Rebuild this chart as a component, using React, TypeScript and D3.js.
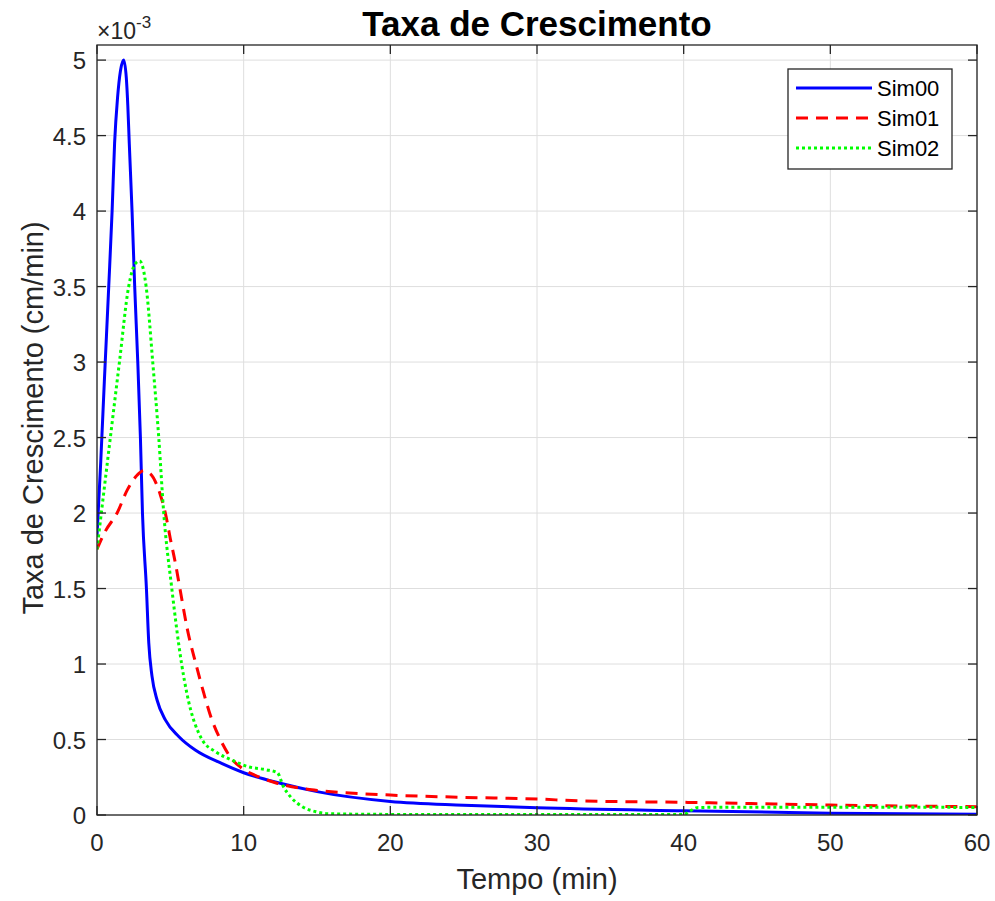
import React, { useEffect, useRef } from "react";
import * as d3 from "d3";

// tempo (min) and taxa (x1e-3 cm/min)
const sim00T = [0, 0.25, 0.5, 0.8, 1.03, 1.2, 1.4, 1.6, 1.82, 2.0, 2.1, 2.2, 2.39, 2.57, 2.78, 2.96, 3.1, 3.37, 3.53, 3.75, 4.1, 4.66, 5.57, 6.7, 8.53, 10, 12.5, 15, 20, 25, 30, 40, 50, 60];
const sim00V = [1.85, 2.33, 2.87, 3.5, 4.0, 4.45, 4.75, 4.93, 5.0, 4.88, 4.7, 4.45, 4.0, 3.5, 3.0, 2.5, 2.0, 1.5, 1.14, 0.92, 0.76, 0.63, 0.52, 0.43, 0.34, 0.28, 0.21, 0.155, 0.09, 0.065, 0.048, 0.028, 0.012, 0.005];

const sim01T = [0, 0.57, 1.37, 2.05, 2.73, 3.18, 3.64, 4.32, 4.66, 5.0, 5.34, 5.69, 6.14, 6.8, 7.3, 7.8, 8.41, 9.2, 9.89, 11.0, 12.16, 14, 15, 20, 25, 30, 33, 40, 50, 60];
const sim01V = [1.76, 1.88, 2.0, 2.15, 2.25, 2.28, 2.26, 2.12, 2.0, 1.83, 1.67, 1.48, 1.24, 0.98, 0.8, 0.64, 0.5, 0.37, 0.31, 0.254, 0.214, 0.175, 0.163, 0.132, 0.117, 0.106, 0.093, 0.084, 0.066, 0.055];

const sim02T = [0, 0.91, 1.53, 2.16, 2.6, 2.91, 3.35, 3.8, 4.21, 4.55, 5.1, 5.77, 6.14, 7.16, 8.07, 9.2, 10.3, 11.5, 12.3, 12.7, 13.2, 14, 15, 16, 20, 30, 40, 40.5, 41, 45, 50, 60];
const sim02V = [1.76, 2.5, 3.0, 3.5, 3.65, 3.67, 3.5, 3.0, 2.5, 2.0, 1.5, 1.0, 0.8, 0.5, 0.42, 0.364, 0.32, 0.3, 0.28, 0.19, 0.12, 0.055, 0.02, 0.008, 0.004, 0.003, 0.003, 0.03, 0.05, 0.052, 0.052, 0.05];

const seriesNames = ["Sim00", "Sim01", "Sim02"];
const xTicks = [0, 10, 20, 30, 40, 50, 60];
const yTicks = [0, 0.5, 1, 1.5, 2, 2.5, 3, 3.5, 4, 4.5, 5];

const W = 995;
const H = 901;
const FONT = "'Liberation Sans', Arial, Helvetica, sans-serif";
const AX = "#262626";

export default function App() {
  const svgRef = useRef<SVGSVGElement | null>(null);

  useEffect(() => {
    const svg = d3.select(svgRef.current);
    svg.selectAll("*").remove();

    const margin = { top: 45, right: 18, bottom: 86, left: 97 };
    const width = W - margin.left - margin.right;
    const height = H - margin.top - margin.bottom;

    const x = d3.scaleLinear().domain([0, 60]).range([0, width]);
    const y = d3.scaleLinear().domain([0, 5.1]).range([height, 0]);

    svg.append("rect").attr("width", W).attr("height", H).attr("fill", "#fff");

    const g = svg.append("g").attr("transform", `translate(${margin.left},${margin.top})`);

    // grid
    g.selectAll(".gx")
      .data(xTicks)
      .enter()
      .append("line")
      .attr("x1", (d) => x(d))
      .attr("x2", (d) => x(d))
      .attr("y1", 0)
      .attr("y2", height)
      .attr("stroke", "#dedede")
      .attr("stroke-width", 1);
    g.selectAll(".gy")
      .data(yTicks)
      .enter()
      .append("line")
      .attr("x1", 0)
      .attr("x2", width)
      .attr("y1", (d) => y(d))
      .attr("y2", (d) => y(d))
      .attr("stroke", "#dedede")
      .attr("stroke-width", 1);

    // curves
    const series = [
      { t: sim00T, v: sim00V, color: "#0000ff", dash: null, w: 3 },
      { t: sim01T, v: sim01V, color: "#ff0000", dash: "12,8", w: 3 },
      { t: sim02T, v: sim02V, color: "#00ff00", dash: "3,3", w: 3 },
    ];
    const line = d3
      .line<[number, number]>()
      .x((d) => x(d[0]))
      .y((d) => y(d[1]))
      .curve(d3.curveMonotoneX);

    const clip = g.append("clipPath").attr("id", "plotclip");
    clip.append("rect").attr("width", width).attr("height", height);

    series.forEach((s) => {
      const pts = s.t.map((t, i) => [t, s.v[i]] as [number, number]);
      g.append("path")
        .attr("d", line(pts))
        .attr("fill", "none")
        .attr("stroke", s.color)
        .attr("stroke-width", s.w)
        .attr("stroke-dasharray", s.dash)
        .attr("clip-path", "url(#plotclip)");
    });

    // box
    g.append("rect")
      .attr("width", width)
      .attr("height", height)
      .attr("fill", "none")
      .attr("stroke", AX)
      .attr("stroke-width", 1.3);

    // ticks, inward on all four sides
    const tl = 9;
    xTicks.forEach((d) => {
      g.append("line").attr("x1", x(d)).attr("x2", x(d)).attr("y1", height).attr("y2", height - tl).attr("stroke", AX).attr("stroke-width", 1.3);
      g.append("line").attr("x1", x(d)).attr("x2", x(d)).attr("y1", 0).attr("y2", tl).attr("stroke", AX).attr("stroke-width", 1.3);
      g.append("text")
        .attr("x", x(d))
        .attr("y", height + 36)
        .attr("text-anchor", "middle")
        .attr("font-family", FONT)
        .attr("font-size", 24)
        .attr("fill", AX)
        .text(d);
    });
    yTicks.forEach((d) => {
      g.append("line").attr("x1", 0).attr("x2", tl).attr("y1", y(d)).attr("y2", y(d)).attr("stroke", AX).attr("stroke-width", 1.3);
      g.append("line").attr("x1", width).attr("x2", width - tl).attr("y1", y(d)).attr("y2", y(d)).attr("stroke", AX).attr("stroke-width", 1.3);
      g.append("text")
        .attr("x", -11)
        .attr("y", y(d) + 9)
        .attr("text-anchor", "end")
        .attr("font-family", FONT)
        .attr("font-size", 24)
        .attr("fill", AX)
        .text(d);
    });

    // exponent
    const ex = svg.append("text")
      .attr("x", 97)
      .attr("y", 39)
      .attr("font-family", FONT)
      .attr("font-size", 23)
      .attr("fill", AX);
    ex.append("tspan").text("×10");
    ex.append("tspan").attr("dy", -11).attr("font-size", 17).text("-3");

    // title and axis labels
    svg.append("text")
      .attr("x", margin.left + width / 2)
      .attr("y", 36)
      .attr("text-anchor", "middle")
      .attr("font-family", FONT)
      .attr("font-weight", "bold")
      .attr("font-size", 35)
      .attr("fill", "#000")
      .text("Taxa de Crescimento");
    svg.append("text")
      .attr("x", margin.left + width / 2)
      .attr("y", 889)
      .attr("text-anchor", "middle")
      .attr("font-family", FONT)
      .attr("font-size", 29)
      .attr("fill", AX)
      .text("Tempo (min)");
    svg.append("text")
      .attr("transform", `translate(43,418) rotate(-90)`)
      .attr("text-anchor", "middle")
      .attr("font-family", FONT)
      .attr("font-size", 29)
      .attr("fill", AX)
      .text("Taxa de Crescimento (cm/min)");

    // legend
    const lg = svg.append("g").attr("transform", "translate(788,69)");
    lg.append("rect")
      .attr("width", 164)
      .attr("height", 100)
      .attr("fill", "#fff")
      .attr("stroke", AX)
      .attr("stroke-width", 1.3);
    series.forEach((s, i) => {
      const ly = 19 + i * 30;
      lg.append("line")
        .attr("x1", 8)
        .attr("x2", 84)
        .attr("y1", ly)
        .attr("y2", ly)
        .attr("stroke", s.color)
        .attr("stroke-width", s.w)
        .attr("stroke-dasharray", s.dash);
      lg.append("text")
        .attr("x", 89)
        .attr("y", ly + 8)
        .attr("font-family", FONT)
        .attr("font-size", 22)
        .attr("fill", "#000")
        .text(seriesNames[i]);
    });
  }, []);

  return (
    <svg
      ref={svgRef}
      width={W}
      height={H}
      style={{ position: "absolute", left: 0, top: 0 }}
    />
  );
}
